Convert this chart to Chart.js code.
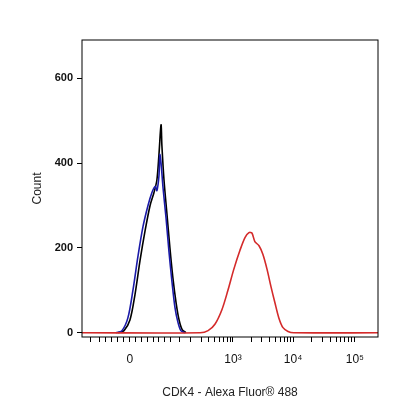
<!DOCTYPE html>
<html><head><script src="https://cdn.jsdelivr.net/npm/chart.js"></script>
<style>body{margin:0;background:#fff}#w{width:416px;height:416px}</style></head>
<body><div id="w"><canvas id="c"></canvas></div>
<script>
const blackX=[12.2,14.2,16.2,17.9,19.6,21.3,23.0,24.3,25.3,26.0,26.7,27.0,27.7,28.7,29.7,30.7,31.8,32.8,33.8,35.1];
const blackY=[0,5,30,90,170,240,300,330,360,420,490,440,360,280,200,130,70,30,8,0];
const blueX=[11.5,13.5,15.5,17.2,18.9,20.6,22.3,23.6,24.7,25.3,26.0,26.3,26.7,27.4,28.4,29.4,30.4,31.4,32.4,33.4,34.8];
const blueY=[0,5,35,100,180,250,300,330,345,335,370,420,400,340,270,190,120,60,25,5,0];
const redX=[0,39.9,42.6,44.9,47.3,49.3,51.3,53.4,55.1,56.4,57.4,58.4,59.8,61.1,62.5,63.8,65.2,66.5,67.9,69.6,71.6,100];
const redY=[0,0,5,20,55,100,150,195,225,236,235,215,205,185,150,110,70,35,12,3,0,0];
const xMajor=[16.2,51,71.3,92.2];
const xMajorLabels=['0','10³','10⁴','10⁵'];
const yTicks=[0,200,400,600];
const pts=(xs,ys)=>xs.map((x,i)=>({x,y:ys[i]}));
const frame={id:'frame',afterDraw(c){const a=c.chartArea,g=c.ctx;g.save();g.strokeStyle='#000';g.lineWidth=1;g.strokeRect(a.left,a.top,a.right-a.left,a.bottom-a.top);g.restore();}};
const ds=(d,col)=>({data:d,borderColor:col,borderWidth:1.6,showLine:true,pointRadius:0,tension:0.3,fill:false});
new Chart(document.getElementById('c'),{type:'scatter',
data:{datasets:[ds(pts(redX,redY),'#d42a2a'),ds(pts(blueX,blueY),'#1a1aa8'),ds(pts(blackX,blackY),'#000')]},
options:{responsive:true,maintainAspectRatio:false,animation:false,
plugins:{legend:{display:false},tooltip:{enabled:false}},
layout:{padding:{top:40,right:38,left:26,bottom:12}},
scales:{
x:{type:'linear',min:0,max:100,
afterBuildTicks(s){const t=xMajor.map(v=>({value:v}));
for(let d=0;d<3;d++)for(let k=2;k<10;k++)t.push({value:51+(d-1+Math.log10(k))*20.5});
[3,6,8,10,12,14,18,20,22,24,26,28,30,33].forEach(v=>t.push({value:v}));
s.ticks=t.filter(o=>o.value>=0&&o.value<=100);},
afterFit(s){s.height=67;},
ticks:{autoSkip:false,maxRotation:0,color:'#111',font:{family:'Liberation Sans',size:12},padding:10,
callback(v){const i=xMajor.findIndex(m=>Math.abs(m-v)<0.01);return i>=0?xMajorLabels[i]:'';}},
grid:{drawOnChartArea:false,tickLength:5,color:'#000'},border:{display:false},
title:{display:true,text:'CDK4 - Alexa Fluor® 488',color:'#222',font:{family:'Liberation Sans',size:12},padding:{top:0}}},
y:{min:-10,max:690,afterBuildTicks(s){s.ticks=yTicks.map(v=>({value:v}));},
afterFit(s){s.width=56;},
ticks:{color:'#111',font:{family:'Liberation Sans',size:11,weight:'bold'},padding:4},
grid:{drawOnChartArea:false,tickLength:5,color:'#000'},border:{display:false},
title:{display:true,text:'Count',color:'#222',font:{family:'Liberation Sans',size:12},padding:{bottom:0}}}}},
plugins:[frame]});
</script></body></html>
